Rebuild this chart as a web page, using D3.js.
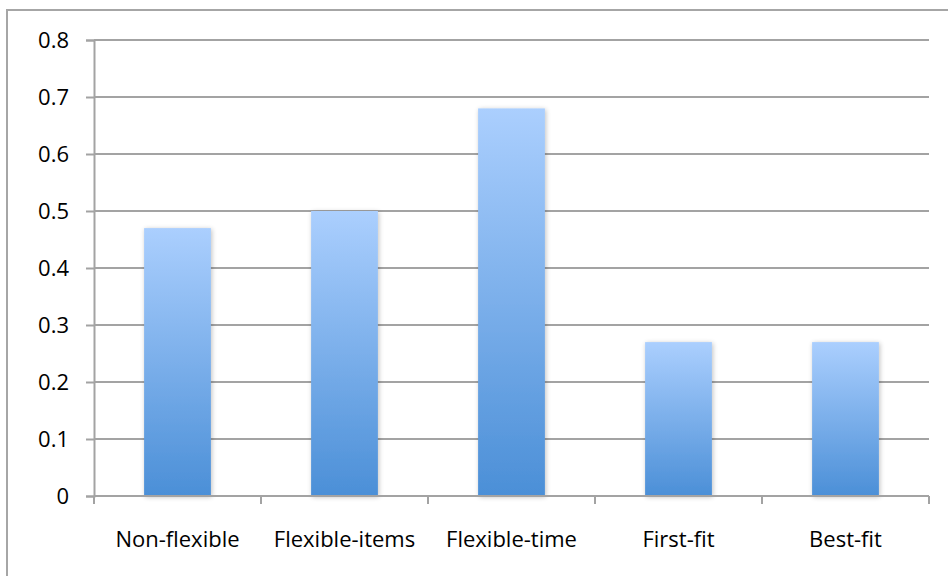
<!DOCTYPE html>
<html>
<head>
<meta charset="utf-8">
<script src="https://cdn.jsdelivr.net/npm/d3@7"></script>
<style>
  html, body { margin: 0; padding: 0; background: #fff; }
  svg { display: block; }
</style>
</head>
<body>
<svg id="chart" width="948" height="576"></svg>
<script>
// Bar chart data
const categories = ["Non-flexible", "Flexible-items", "Flexible-time", "First-fit", "Best-fit"];
const values = [0.47, 0.50, 0.68, 0.27, 0.27];
const yTicks = [0, 0.1, 0.2, 0.3, 0.4, 0.5, 0.6, 0.7, 0.8];

const svg = d3.select("#chart");
const W = 948, H = 576;
const margin = { left: 94, right: 19, top: 40, bottom: 80 };
const plotW = W - margin.left - margin.right;
const plotH = H - margin.top - margin.bottom;
const font = "'Open Sans', sans-serif";
const fontSize = 22;
const gridColor = "#a3a3a3";

// Outer frame (top and left edges visible)
svg.append("rect")
  .attr("x", 7).attr("y", 10)
  .attr("width", W + 20).attr("height", H + 20)
  .attr("fill", "none").attr("stroke", "#a6a6a6").attr("stroke-width", 2);

const defs = svg.append("defs");
const grad = defs.append("linearGradient")
  .attr("id", "barGrad").attr("x1", 0).attr("y1", 0).attr("x2", 0).attr("y2", 1);
grad.append("stop").attr("offset", "0%").attr("stop-color", "#abcffe");
grad.append("stop").attr("offset", "100%").attr("stop-color", "#4b8fd7");

const shadow = defs.append("filter").attr("id", "barShadow")
  .attr("x", "-20%").attr("y", "-10%").attr("width", "140%").attr("height", "120%");
shadow.append("feGaussianBlur").attr("in", "SourceAlpha").attr("stdDeviation", 2.5).attr("result", "b");
shadow.append("feOffset").attr("in", "b").attr("dx", 1).attr("dy", 1).attr("result", "o");
shadow.append("feComponentTransfer").attr("in", "o").attr("result", "s")
  .append("feFuncA").attr("type", "linear").attr("slope", 0.25);
const merge = shadow.append("feMerge");
merge.append("feMergeNode").attr("in", "s");
merge.append("feMergeNode").attr("in", "SourceGraphic");

const g = svg.append("g").attr("transform", `translate(${margin.left},${margin.top})`);

const x = d3.scaleBand().domain(categories).range([0, plotW]).paddingInner(0.6).paddingOuter(0.3);
const xOuter = d3.scaleBand().domain(categories).range([0, plotW]);
const y = d3.scaleLinear().domain([0, 0.8]).range([plotH, 0]);

// Horizontal gridlines
g.append("g").selectAll("line").data(yTicks.filter(d => d > 0)).join("line")
  .attr("x1", 0).attr("x2", plotW)
  .attr("y1", d => y(d)).attr("y2", d => y(d))
  .attr("stroke", gridColor).attr("stroke-width", 2);

// Y axis
const yAxis = g.append("g")
  .call(d3.axisLeft(y).tickValues(yTicks).tickSize(8).tickPadding(17)
    .tickFormat(d => d === 0 ? "0" : d3.format(".1f")(d)));
yAxis.select(".domain").attr("stroke", gridColor).attr("stroke-width", 2);
yAxis.selectAll(".tick line").attr("stroke", gridColor).attr("stroke-width", 2);
yAxis.selectAll(".tick text").attr("fill", "#000").attr("font-family", font).attr("font-size", fontSize);

// Bars
g.append("g").selectAll("rect").data(values).join("rect")
  .attr("x", (d, i) => x(categories[i]))
  .attr("y", d => y(d))
  .attr("width", x.bandwidth())
  .attr("height", d => plotH - y(d))
  .attr("fill", "url(#barGrad)")
  .attr("filter", "url(#barShadow)");

// X axis with ticks at category boundaries
const xa = g.append("g").attr("transform", `translate(0,${plotH})`);
xa.append("line").attr("x1", 0).attr("x2", plotW).attr("y1", 0).attr("y2", 0)
  .attr("stroke", gridColor).attr("stroke-width", 2);
const bounds = categories.map(c => xOuter(c)).concat([plotW]);
xa.selectAll("line.tk").data(bounds).join("line").attr("class", "tk")
  .attr("x1", d => d).attr("x2", d => d).attr("y1", 0).attr("y2", 8)
  .attr("stroke", gridColor).attr("stroke-width", 2);
xa.selectAll("text").data(categories).join("text")
  .attr("x", d => xOuter(d) + xOuter.bandwidth() / 2)
  .attr("y", 51)
  .attr("text-anchor", "middle")
  .attr("font-family", font).attr("font-size", fontSize).attr("fill", "#000")
  .text(d => d);
</script>
</body>
</html>
